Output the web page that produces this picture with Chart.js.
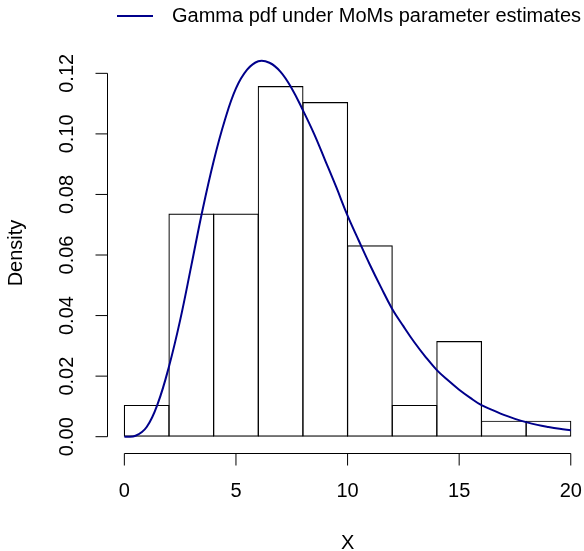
<!DOCTYPE html>
<html>
<head>
<meta charset="utf-8">
<script src="https://cdn.jsdelivr.net/npm/chart.js@4"></script>
<style>
  html, body { margin: 0; padding: 0; background: #fff; }
  canvas { display: block; }
</style>
</head>
<body>
<canvas id="c" width="584" height="551"></canvas>
<script>
// ---- data ----
const binMids = [1, 3, 5, 7, 9, 11, 13, 15, 17, 19];
const binDensity = [0.0105, 0.0737, 0.0737, 0.1158, 0.1105, 0.0632, 0.0105, 0.0316, 0.0053, 0.0053];
const curveX = [0, 0.5, 1, 1.5, 2, 2.5, 3, 3.5, 4, 4.5, 5, 5.5, 6, 6.5, 7, 7.5, 8, 8.5, 9, 9.5, 10,
                10.5, 11, 11.5, 12, 12.5, 13, 13.5, 14, 14.5, 15, 15.5, 16, 16.5, 17, 17.5, 18, 18.5, 19, 19.5, 20];
const curveY = [0, 0.0003, 0.0032, 0.0110, 0.0232, 0.0385, 0.0565, 0.0748, 0.0910, 0.1045, 0.1150,
                0.1212, 0.1240, 0.1235, 0.1205, 0.1150, 0.1078, 0.1000, 0.0912, 0.0823, 0.0730,
                0.0648, 0.0568, 0.0493, 0.0422, 0.0365, 0.0311, 0.0263, 0.0220, 0.0186, 0.0155,
                0.0128, 0.0104, 0.0088, 0.0072, 0.0059, 0.0048, 0.0039, 0.0032, 0.0026, 0.0021];
const xTicks = [0, 5, 10, 15, 20];
const xTickLabels = ['0', '5', '10', '15', '20'];
const yTicks = [0, 0.02, 0.04, 0.06, 0.08, 0.10, 0.12];
const yTickLabels = ['0.00', '0.02', '0.04', '0.06', '0.08', '0.10', '0.12'];
const xTitle = 'X';
const yTitle = 'Density';
const curveLabel = 'Gamma pdf under MoMs parameter estimates';

// ---- styling ----
const FONT_SIZE = 20;
const FONT = FONT_SIZE + 'px "Liberation Sans", Arial, Helvetica, sans-serif';
const CURVE_COLOR = '#00008B';
const TICK_LEN = 12;

const histData = binMids.map((m, i) => ({ x: m, y: binDensity[i] }));
const curveData = curveX.map((v, i) => ({ x: v, y: curveY[i] }));

const rAxes = {
  id: 'rAxes',
  afterDraw(chart) {
    const { ctx, scales: { x, y }, chartArea } = chart;
    ctx.save();
    ctx.strokeStyle = '#000';
    ctx.fillStyle = '#000';
    ctx.lineWidth = 1;
    ctx.font = FONT;

    // x axis
    const xLineY = Math.round(chartArea.bottom) + 0.5;
    ctx.beginPath();
    ctx.moveTo(x.getPixelForValue(xTicks[0]), xLineY);
    ctx.lineTo(x.getPixelForValue(xTicks[xTicks.length - 1]), xLineY);
    xTicks.forEach(t => {
      const px = x.getPixelForValue(t);
      ctx.moveTo(px, xLineY);
      ctx.lineTo(px, xLineY + TICK_LEN);
    });
    ctx.stroke();
    ctx.textAlign = 'center';
    ctx.textBaseline = 'middle';
    xTicks.forEach((t, i) => {
      ctx.fillText(xTickLabels[i], x.getPixelForValue(t), 491);
    });
    ctx.fillText(xTitle, x.getPixelForValue(10), 543);

    // y axis
    const yLineX = Math.round(chartArea.left) + 0.5;
    ctx.beginPath();
    ctx.moveTo(yLineX, y.getPixelForValue(yTicks[0]));
    ctx.lineTo(yLineX, y.getPixelForValue(yTicks[yTicks.length - 1]));
    yTicks.forEach(t => {
      const py = y.getPixelForValue(t);
      ctx.moveTo(yLineX, py);
      ctx.lineTo(yLineX - TICK_LEN, py);
    });
    ctx.stroke();
    yTicks.forEach((t, i) => {
      ctx.save();
      ctx.translate(67, y.getPixelForValue(t));
      ctx.rotate(-Math.PI / 2);
      ctx.fillText(yTickLabels[i], 0, 0);
      ctx.restore();
    });
    ctx.save();
    ctx.translate(16, 253);
    ctx.rotate(-Math.PI / 2);
    ctx.fillText(yTitle, 0, 0);
    ctx.restore();

    // legend
    ctx.textAlign = 'left';
    ctx.strokeStyle = CURVE_COLOR;
    ctx.lineWidth = 2;
    ctx.beginPath();
    ctx.moveTo(117, 16);
    ctx.lineTo(153, 16);
    ctx.stroke();
    ctx.fillText(curveLabel, 172, 16);
    ctx.restore();
  }
};

new Chart(document.getElementById('c'), {
  type: 'bar',
  data: {
    datasets: [
      {
        type: 'bar',
        data: histData,
        backgroundColor: 'rgba(0,0,0,0)',
        borderColor: '#000',
        borderWidth: 1.2,
        borderSkipped: false,
        barPercentage: 1.026,
        categoryPercentage: 1,
        order: 2
      },
      {
        type: 'line',
        label: curveLabel,
        data: curveData,
        borderColor: CURVE_COLOR,
        borderWidth: 2,
        pointRadius: 0,
        tension: 0.4,
        fill: false,
        order: 1
      }
    ]
  },
  options: {
    responsive: false,
    animation: false,
    events: [],
    layout: { padding: { left: 106.5, right: 4.3, top: 30, bottom: 98.5 } },
    plugins: { legend: { display: false }, tooltip: { enabled: false } },
    scales: {
      x: { type: 'linear', min: -0.8, max: 20.4, offset: false, display: false },
      y: { type: 'linear', min: -0.00522, max: 0.13431, display: false }
    }
  },
  plugins: [rAxes]
});
</script>
</body>
</html>
